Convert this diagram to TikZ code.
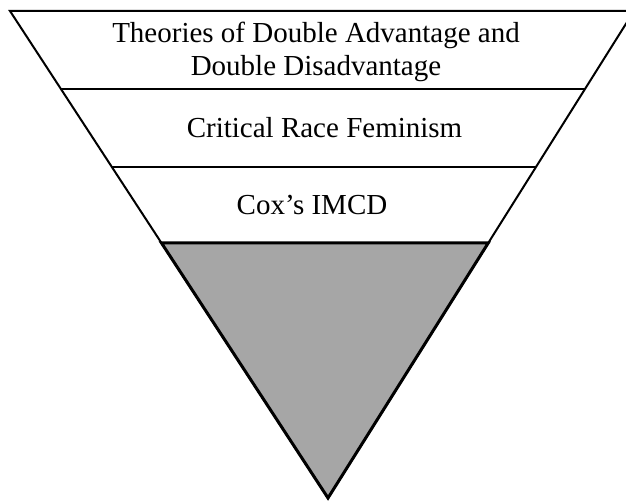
\documentclass[tikz,border=0pt]{standalone}
\usepackage{fontspec}
\setmainfont{Liberation Serif}
\usetikzlibrary{calc}
\definecolor{layergray}{HTML}{A6A6A6}
\tikzset{
  layertext/.style={inner sep=0pt,font=\fontsize{14.5}{16.5}\selectfont,align=center},
  layerline/.style={line width=1pt}
}

\begin{document}
\begin{tikzpicture}[x=0.5pt,y=-0.5pt]
  \clip (0,0) rectangle (626,502);
  \coordinate (tl) at (10,11);
  \coordinate (tr) at (634,11);
  \coordinate (apex) at (328,498);
  \draw[layerline] (tl) -- (tr) -- (apex) -- cycle;
  \foreach \yy in {89,167}{\draw[layerline] ($(tl)!{(\yy-11)/487}!(apex)$) -- ($(tr)!{(\yy-11)/487}!(apex)$);}
  \path[fill=layergray,draw=black,line width=1.5pt] ($(tl)!{232/487}!(apex)$) -- ($(tr)!{232/487}!(apex)$) -- (apex) -- cycle;
  \node[layertext] (theories) at (316,51.5) {Theories of Double Advantage and\\Double Disadvantage};
  \node[layertext,anchor=base] (crf) at (324.5,138) {Critical Race Feminism};
  \node[layertext,anchor=base] (imcd) at (312,215) {Cox’s IMCD};
\end{tikzpicture}
\end{document}
